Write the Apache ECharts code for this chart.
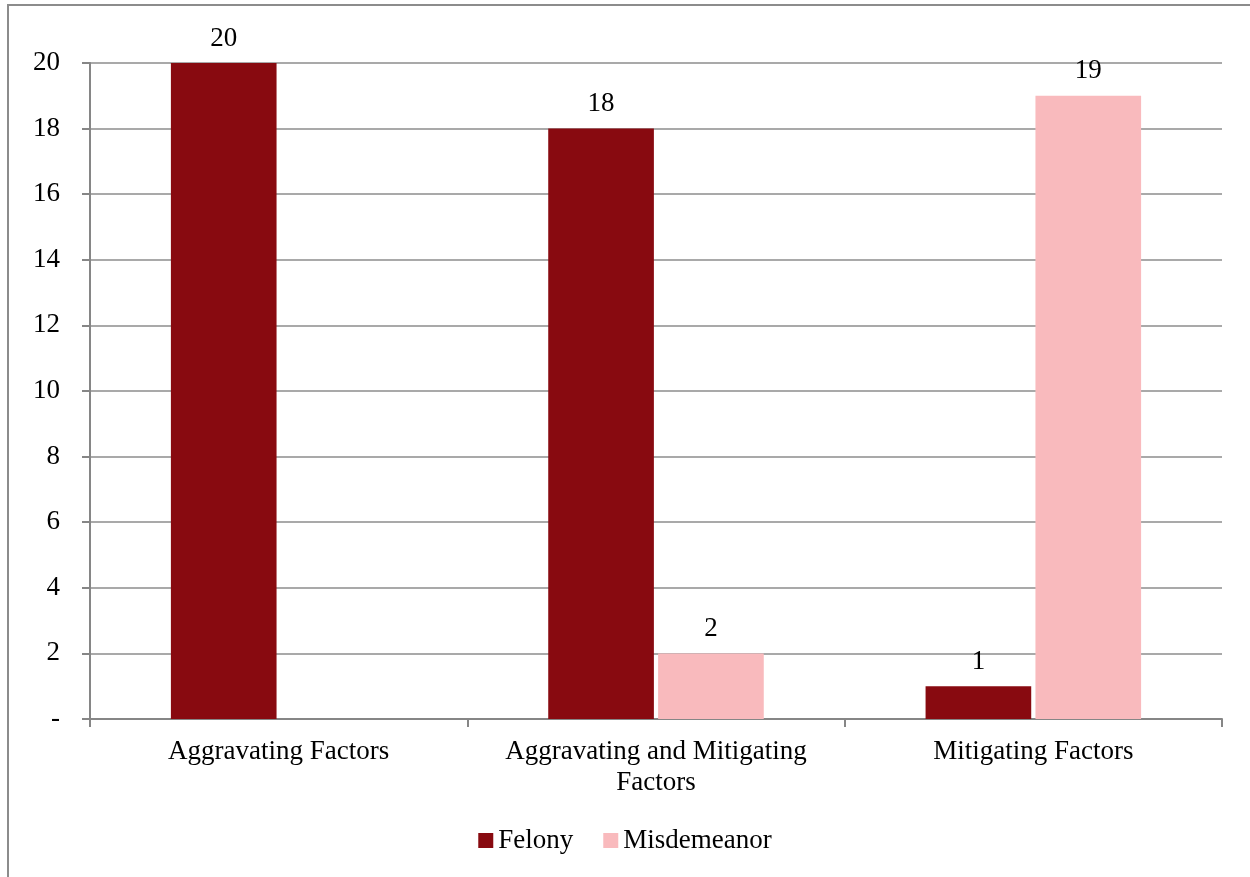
<!DOCTYPE html>
<html>
<head>
<meta charset="utf-8">
<script src="https://cdn.jsdelivr.net/npm/echarts@6/dist/echarts.min.js"></script>
<style>
  html, body { margin: 0; padding: 0; background: #fff; }
  #frame { position: absolute; left: 7px; top: 4px; width: 1300px; height: 940px; border: 2px solid #8c8c8c; box-sizing: border-box; }
  #chart { position: absolute; left: 0; top: 0; width: 1250px; height: 877px; }
</style>
</head>
<body>
<div id="frame"></div>
<div id="chart"></div>
<script>
// Case counts by type of sentencing factor
const categories = ['Aggravating Factors', 'Aggravating and Mitigating\nFactors', 'Mitigating Factors'];
const felony = [20, 18, 1];
const misdemeanor = [null, 2, 19];
const yTicks = { min: 0, max: 20, interval: 2 };

const serif = '"Liberation Serif", "DejaVu Serif", serif';
const fs = 27;
const chart = echarts.init(document.getElementById('chart'));
chart.setOption({
  animation: false,
  textStyle: { fontFamily: serif },
  grid: { left: 90, right: 28, top: 63, bottom: 158, containLabel: false },
  legend: {
    top: 822,
    left: 'center',
    itemWidth: 15,
    itemHeight: 15,
    itemGap: 30,
    icon: 'rect',
    textStyle: { fontFamily: serif, fontSize: fs, color: '#000' },
    data: ['Felony', 'Misdemeanor']
  },
  xAxis: {
    type: 'category',
    data: categories,
    axisLine: { lineStyle: { color: '#868686', width: 2 } },
    axisTick: { show: true, interval: 0, alignWithLabel: false, length: 8, lineStyle: { color: '#868686', width: 2 } },
    axisLabel: { interval: 0, fontFamily: serif, fontSize: fs, color: '#000', margin: 17, lineHeight: 31 }
  },
  yAxis: {
    type: 'value',
    min: yTicks.min,
    max: yTicks.max,
    interval: yTicks.interval,
    axisLine: { show: true, lineStyle: { color: '#868686', width: 2 } },
    axisTick: { show: true, length: 8, lineStyle: { color: '#868686', width: 2 } },
    splitLine: { lineStyle: { color: '#8c8c8c', width: 1.5 } },
    axisLabel: {
      fontFamily: serif, fontSize: fs, color: '#000', margin: 30,
      formatter: v => (v === 0 ? '-' : String(v))
    }
  },
  series: [
    {
      name: 'Felony', type: 'bar', data: felony,
      barWidth: '28%', barGap: '4%',
      itemStyle: { color: '#880A10' },
      label: { show: true, position: 'top', distance: 11, fontFamily: serif, fontSize: fs, color: '#000' }
    },
    {
      name: 'Misdemeanor', type: 'bar', data: misdemeanor,
      barWidth: '28%',
      itemStyle: { color: '#F9BABD' },
      label: { show: true, position: 'top', distance: 11, fontFamily: serif, fontSize: fs, color: '#000' }
    }
  ]
});
</script>
</body>
</html>
